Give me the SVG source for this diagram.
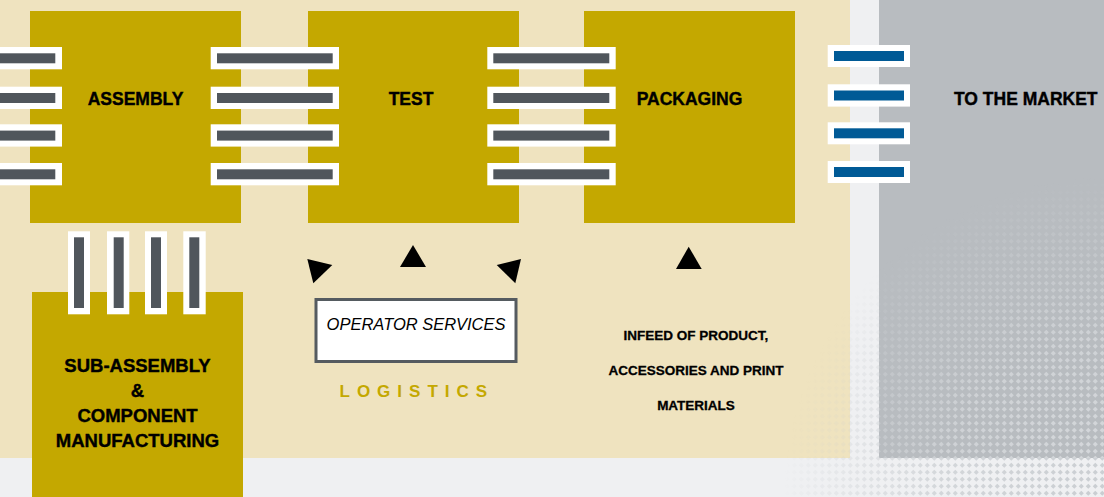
<svg xmlns="http://www.w3.org/2000/svg" width="1104" height="497" viewBox="0 0 1104 497">
<style>
.box{fill:#C4A800}
.lbl{font-family:"Liberation Sans",Arial,sans-serif;font-weight:bold;fill:#000;stroke:#000;stroke-width:0.4;font-size:17.5px}
.sub{font-family:"Liberation Sans",Arial,sans-serif;font-weight:bold;fill:#000;stroke:#000;stroke-width:0.4;font-size:18.5px;text-anchor:middle}
.inf{font-family:"Liberation Sans",Arial,sans-serif;font-weight:bold;fill:#000;stroke:#000;stroke-width:0.3;font-size:13.5px;text-anchor:middle}
.w{fill:#fff}
.g{fill:#50565C}
.b{fill:#005A96}
.tri{fill:#000}
</style>
<defs>
<pattern id="dots1" width="7" height="7" patternUnits="userSpaceOnUse">
<rect x="1.5" y="1.5" width="3.6" height="3.6" transform="rotate(45 3.3 3.3)" fill="#D6D9DC"/>
</pattern>
<pattern id="dots2" width="7" height="7" patternUnits="userSpaceOnUse">
<rect x="1.5" y="1.5" width="3.6" height="3.6" transform="rotate(45 3.3 3.3)" fill="#C9CDD1"/>
</pattern>
<radialGradient id="fade" cx="1104" cy="497" r="320" gradientUnits="userSpaceOnUse">
<stop offset="0" stop-color="#fff" stop-opacity="1"/>
<stop offset="0.5" stop-color="#fff" stop-opacity="0.75"/>
<stop offset="1" stop-color="#fff" stop-opacity="0"/>
</radialGradient>
<mask id="m"><rect x="0" y="0" width="1104" height="497" fill="url(#fade)"/></mask>
</defs>

<g id="background">
<rect x="0" y="0" width="1104" height="497" fill="#EFF0F2"/>
<rect x="0" y="0" width="850" height="458" fill="#EFE3BF"/>
<rect x="879" y="0" width="225" height="458" fill="#B8BCC0"/>
<g mask="url(#m)">
<rect x="879" y="150" width="225" height="308" fill="url(#dots1)"/>
<rect x="700" y="458" width="404" height="39" fill="url(#dots2)"/>
<rect x="850" y="150" width="29" height="308" fill="url(#dots2)"/>
<rect x="750" y="300" width="100" height="158" fill="url(#dots2)" opacity="0.6"/>
</g>
</g>

<g id="assembly">
<rect class="box" x="30" y="11" width="211" height="212"/>
<text class="lbl" x="135.5" y="104.5" text-anchor="middle">ASSEMBLY</text>
</g>
<g id="test">
<rect class="box" x="308" y="11" width="211" height="212"/>
<text class="lbl" x="411" y="104.5" text-anchor="middle">TEST</text>
</g>
<g id="packaging">
<rect class="box" x="584" y="11" width="211" height="212"/>
<text class="lbl" x="689.5" y="104.5" text-anchor="middle">PACKAGING</text>
</g>
<g id="market">
<text class="lbl" x="954" y="104.5">TO THE MARKET</text>
</g>
<g id="subassembly">
<rect class="box" x="32" y="292" width="211" height="205"/>
<text class="sub" x="137.5" y="371.5">SUB-ASSEMBLY</text>
<text class="sub" x="137.5" y="396.5">&amp;</text>
<text class="sub" x="137.5" y="422">COMPONENT</text>
<text class="sub" x="137.5" y="447">MANUFACTURING</text>
</g>
<g id="operator-services">
<rect x="316" y="299.5" width="200" height="62" fill="#fff" stroke="#555B60" stroke-width="3"/>
<text x="416" y="329.5" text-anchor="middle" font-family="'Liberation Sans',Arial,sans-serif" font-style="italic" font-size="16.5" fill="#000">OPERATOR SERVICES</text>
<text x="339.5" y="396.5" font-family="'Liberation Sans',Arial,sans-serif" font-weight="bold" font-size="17" letter-spacing="7" fill="#C4A800">LOGISTICS</text>
</g>
<g id="infeed">
<text class="inf" x="696" y="340">INFEED OF PRODUCT,</text>
<text class="inf" x="696" y="374.5">ACCESSORIES AND PRINT</text>
<text class="inf" x="696" y="409.5">MATERIALS</text>
</g>

<g id="connectors">
<rect class="w" x="-10" y="47" width="72" height="22.3"/><rect class="g" x="-10" y="53.3" width="65.3" height="10"/>
<rect class="w" x="-10" y="86.7" width="72" height="22.3"/><rect class="g" x="-10" y="93" width="65.3" height="10"/>
<rect class="w" x="-10" y="124.3" width="72" height="22.3"/><rect class="g" x="-10" y="130.6" width="65.3" height="10"/>
<rect class="w" x="-10" y="163" width="72" height="22.3"/><rect class="g" x="-10" y="169.3" width="65.3" height="10"/>
<rect class="w" x="210.7" y="47" width="128.3" height="22.3"/><rect class="g" x="217" y="53.3" width="115.7" height="10"/>
<rect class="w" x="210.7" y="86.7" width="128.3" height="22.3"/><rect class="g" x="217" y="93" width="115.7" height="10"/>
<rect class="w" x="210.7" y="124.3" width="128.3" height="22.3"/><rect class="g" x="217" y="130.6" width="115.7" height="10"/>
<rect class="w" x="210.7" y="163" width="128.3" height="22.3"/><rect class="g" x="217" y="169.3" width="115.7" height="10"/>
<rect class="w" x="487.3" y="47" width="128.4" height="22.3"/><rect class="g" x="493.3" y="53.3" width="116" height="10"/>
<rect class="w" x="487.3" y="86.7" width="128.4" height="22.3"/><rect class="g" x="493.3" y="93" width="116" height="10"/>
<rect class="w" x="487.3" y="124.3" width="128.4" height="22.3"/><rect class="g" x="493.3" y="130.6" width="116" height="10"/>
<rect class="w" x="487.3" y="163" width="128.4" height="22.3"/><rect class="g" x="493.3" y="169.3" width="116" height="10"/>
<rect class="w" x="827.7" y="45" width="82.3" height="22"/><rect class="b" x="834" y="51" width="70" height="10"/>
<rect class="w" x="827.7" y="84.3" width="82.3" height="22.3"/><rect class="b" x="834" y="90.5" width="70" height="10"/>
<rect class="w" x="827.7" y="122.3" width="82.3" height="22"/><rect class="b" x="834" y="128.3" width="70" height="10"/>
<rect class="w" x="827.7" y="161" width="82.3" height="22"/><rect class="b" x="834" y="167" width="70" height="10"/>
<rect class="w" x="68" y="231.3" width="22" height="83"/><rect class="g" x="74" y="237.3" width="10" height="70.7"/>
<rect class="w" x="107" y="231.3" width="22.3" height="83"/><rect class="g" x="113.7" y="237.3" width="10" height="70.7"/>
<rect class="w" x="145" y="231.3" width="22" height="83"/><rect class="g" x="151" y="237.3" width="10" height="70.7"/>
<rect class="w" x="183.3" y="231.3" width="22.4" height="83"/><rect class="g" x="189.3" y="237.3" width="10" height="70.7"/>
<polygon class="tri" points="307.3,259 332.3,265 313.3,283.3"/>
<polygon class="tri" points="413,245 426,267 400,267"/>
<polygon class="tri" points="521,259 496.7,265 515.3,283.3"/>
<polygon class="tri" points="688.7,246.7 701.7,269 676,269"/>
</g>
</svg>
